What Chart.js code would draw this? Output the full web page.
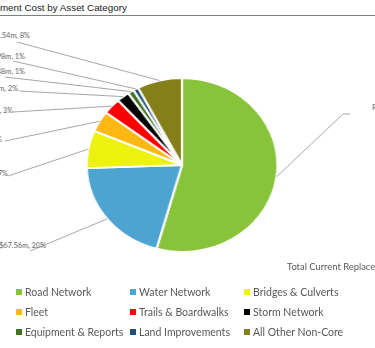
<!DOCTYPE html>
<html>
<head>
<meta charset="utf-8">
<script src="https://cdn.jsdelivr.net/npm/chart.js@4"></script>
<style>
  html, body { margin: 0; padding: 0; background: #fff; }
  body { width: 375px; height: 348px; position: relative; overflow: hidden; }
  #title { position: absolute; left: -36px; top: 2px; font: 9.8px "Liberation Sans", Arial, sans-serif; color: #222; white-space: nowrap; }
  #rule { position: absolute; left: 0; top: 15px; width: 375px; height: 1px; background: #7f7f7f; }
  #wrap { position: absolute; left: -120px; top: 0; width: 620px; height: 348px; transform-origin: 302px 165px; transform: scaleX(1.097); }
  #total { position: absolute; left: 287px; top: 261px; font: 9.4px Lato; color: #595959; white-space: nowrap; }
  #legend { position: absolute; left: 16px; top: 282px; display: grid; grid-template-columns: 114px 114px 114px; grid-auto-rows: 20px; font: 10.5px Lato; color: #595959; }
  .item { display: flex; align-items: center; white-space: nowrap; }
  .sw { width: 6px; height: 6px; margin-right: 3px; flex: none; }
</style>
</head>
<body>
<div id="title">Replacement Cost by Asset Category</div>
<div id="rule"></div>
<div id="wrap"><canvas id="pieChart"></canvas></div>
<div id="total"></div>
<div id="legend"></div>
<script>
// Replacement cost by asset category ($ millions)
const categories = ['Road Network', 'Water Network', 'Bridges & Culverts', 'Fleet', 'Trails & Boardwalks',
                    'Storm Network', 'Equipment & Reports', 'Land Improvements', 'All Other Non-Core'];
const values = [182.31, 67.56, 23.47, 13.12, 10.05, 7.21, 3.48, 2.98, 25.54];
const colors = ['#88C43A', '#4DA4D0', '#EEF20F', '#FDB813', '#FF0000', '#000000', '#3C7420', '#1F4E79', '#847F18'];

// label placement (page pixels): text anchor + where the leader line leaves the label
const labelLayout = [
    { side: 'right', tx: 372, ty: 108, lx: 343, ly: 114, hx: 350 },
    { side: 'left', tx: 46, ty: 246, lx: 30, ly: 251 },
    { side: 'left', tx: 8, ty: 174, lx: 8, ly: 176 },
    { side: 'left', tx: 2, ty: 140, lx: 5, ly: 141 },
    { side: 'left', tx: 13, ty: 111, lx: 13, ly: 112 },
    { side: 'left', tx: 18, ty: 89, lx: 19, ly: 91 },
    { side: 'left', tx: 25, ty: 72, lx: 5, ly: 77 },
    { side: 'left', tx: 25, ty: 57, lx: 13, ly: 61 },
    { side: 'left', tx: 30, ty: 36, lx: 17, ly: 42 }
];

const total = values.reduce((a, b) => a + b, 0);
const SX = 1.097, PAGE_CX = 182, CANVAS_CX = 302;
const toCanvasX = px => CANVAS_CX + (px - PAGE_CX) / SX;

const leaderLabels = {
    id: 'leaderLabels',
    afterDatasetsDraw(chart) {
        const ctx = chart.ctx;
        const meta = chart.getDatasetMeta(0);
        ctx.save();
        ctx.font = '6.7px Lato';
        ctx.fillStyle = '#595959';
        ctx.strokeStyle = '#a6a6a6';
        ctx.lineWidth = 1;
        ctx.textBaseline = 'middle';
        meta.data.forEach((arc, i) => {
            const p = arc.getProps(['x', 'y', 'startAngle', 'endAngle', 'outerRadius'], true);
            const mid = (p.startAngle + p.endAngle) / 2;
            const ex = p.x + Math.cos(mid) * p.outerRadius;
            const ey = p.y + Math.sin(mid) * p.outerRadius;
            const L = labelLayout[i];
            ctx.beginPath();
            ctx.moveTo(ex, ey);
            ctx.lineTo(toCanvasX(L.lx), L.ly);
            if (L.hx) ctx.lineTo(toCanvasX(L.hx), L.ly);
            ctx.stroke();
            const pct = Math.round(values[i] / total * 100);
            const txt = categories[i] + ', $' + values[i].toFixed(2) + 'm, ' + pct + '%';
            ctx.textAlign = L.side === 'left' ? 'right' : 'left';
            ctx.fillText(txt, toCanvasX(L.tx), L.ty);
        });
        ctx.restore();
    }
};

const ctx = document.getElementById('pieChart').getContext('2d');
const pieChart = new Chart(ctx, {
    type: 'pie',
    data: {
        labels: categories,
        datasets: [{
            data: values,
            backgroundColor: colors,
            borderColor: '#ffffff',
            borderWidth: 2
        }]
    },
    options: {
        responsive: true,
        maintainAspectRatio: false,
        animation: false,
        layout: { padding: { top: 77, bottom: 95, left: 0, right: 16 } },
        plugins: {
            legend: { display: false },
            tooltip: { enabled: false }
        }
    },
    plugins: [leaderLabels]
});

document.getElementById('total').textContent =
    'Total Current Replacement Cost: $' + total.toFixed(2) + 'm';

const legend = document.getElementById('legend');
categories.forEach((name, i) => {
    const item = document.createElement('div');
    item.className = 'item';
    const sw = document.createElement('span');
    sw.className = 'sw';
    sw.style.background = colors[i];
    const label = document.createElement('span');
    label.textContent = name;
    item.appendChild(sw);
    item.appendChild(label);
    legend.appendChild(item);
});
</script>
</body>
</html>
